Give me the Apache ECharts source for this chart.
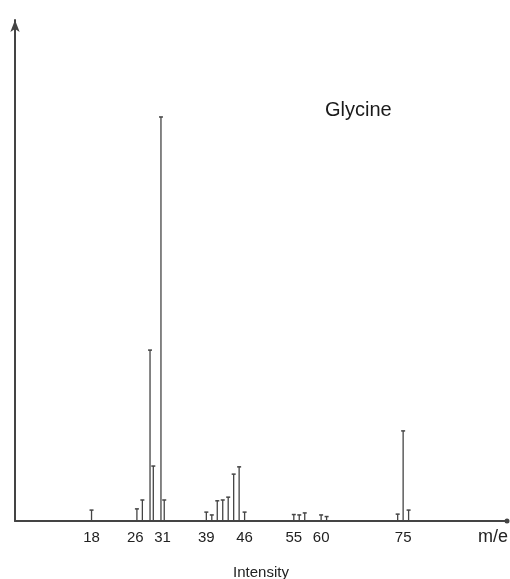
<!DOCTYPE html>
<html>
<head>
<meta charset="utf-8">
<script src="https://cdn.jsdelivr.net/npm/echarts@6/dist/echarts.min.js"></script>
<style>
html, body { margin: 0; padding: 0; background: #fff; }
#chart { width: 510px; height: 579px; }
</style>
</head>
<body>
<div id="chart"></div>
<script>
// m/e of each peak as drawn, and relative intensity (% of base peak)
const massValues = [18, 26.3, 27.3, 28.7, 29.3, 30.7, 31.3, 39, 40, 41, 42, 43, 44, 45, 46, 55, 56, 57, 60, 61, 74, 75, 76];
const intensities = [2.7, 3.0, 5.2, 42.3, 13.6, 100, 5.2, 2.2, 1.5, 5.0, 5.2, 5.9, 11.6, 13.4, 2.2, 1.6, 1.5, 2.0, 1.5, 1.1, 1.7, 22.3, 2.7];
const tickLabels = [18, 26, 31, 39, 46, 55, 60, 75];

const peaks = massValues.map((m, i) => [m, intensities[i]]);

let myChart = echarts.init(document.getElementById('chart'));

myChart.setOption({
    animation: false,
    backgroundColor: '#fff',
    title: {
        text: 'Glycine',
        left: 320,
        top: 95,
        textStyle: { fontFamily: 'Liberation Sans', fontSize: 20, fontWeight: 'normal', color: '#1a1a1a' }
    },
    grid: { left: 15, top: 20, width: 492, bottom: 58, outerBoundsMode: 'none', containLabel: false },
    xAxis: {
        type: 'value',
        min: 4,
        max: 94,
        name: 'Intensity',
        nameLocation: 'middle',
        nameGap: 44,
        nameTextStyle: { fontFamily: 'Liberation Sans', fontSize: 15, color: '#222' },
        axisLine: { lineStyle: { color: '#444', width: 2 }, symbol: ['none', 'circle'], symbolSize: [5, 5] },
        axisTick: { show: false },
        splitLine: { show: false },
        axisLabel: {
            customValues: tickLabels,
            margin: 9,
            fontFamily: 'Liberation Sans',
            fontSize: 15,
            color: '#222'
        }
    },
    yAxis: {
        type: 'value',
        min: 0,
        max: 124,
        axisLine: { show: true, lineStyle: { color: '#444', width: 2 }, symbol: ['none', 'arrow'], symbolSize: [7, 12] },
        axisTick: { show: false },
        axisLabel: { show: false },
        splitLine: { show: false }
    },
    graphic: [
        {
            type: 'text',
            right: 2,
            top: 528,
            style: { text: 'm/e', font: '18px "Liberation Sans"', fill: '#222' }
        }
    ],
    series: [{
        type: 'custom',
        data: peaks,
        renderItem: function (params, api) {
            let base = api.coord([api.value(0), 0]);
            let top = api.coord([api.value(0), api.value(1)]);
            return {
                type: 'group',
                children: [
                    {
                        type: 'line',
                        shape: { x1: base[0], y1: base[1], x2: top[0], y2: top[1] },
                        style: { stroke: '#444', lineWidth: 1.3 }
                    },
                    {
                        type: 'line',
                        shape: { x1: top[0] - 2, y1: top[1], x2: top[0] + 2, y2: top[1] },
                        style: { stroke: '#444', lineWidth: 1.5 }
                    }
                ]
            };
        }
    }]
});
</script>
</body>
</html>
